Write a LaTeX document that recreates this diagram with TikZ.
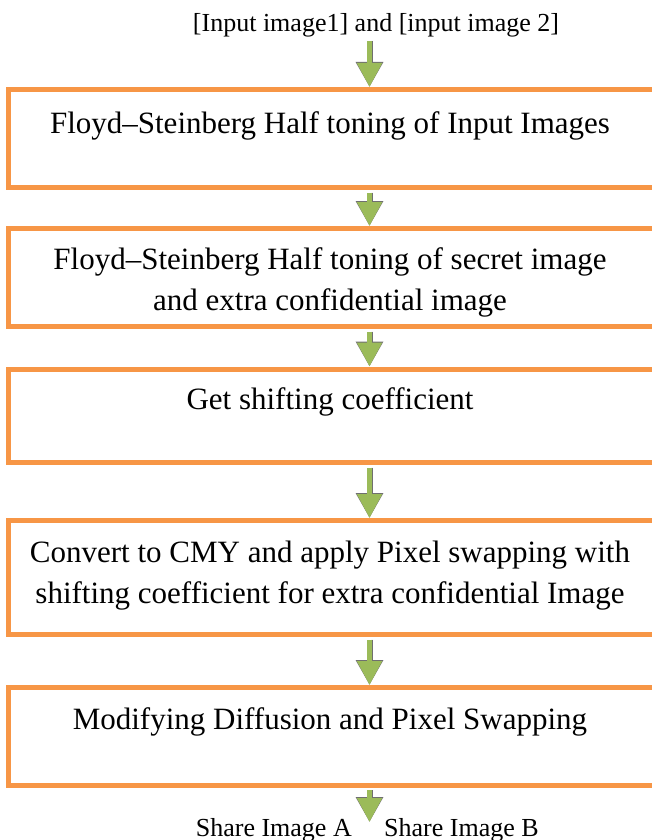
\documentclass[tikz,border=0pt]{standalone}
\usepackage{fontspec}
\setmainfont{Liberation Serif}
\usetikzlibrary{arrows.meta}
\definecolor{boxorange}{HTML}{F79646}
\definecolor{arrowgreen}{HTML}{9BBB59}
\definecolor{arrowedge}{HTML}{6F6F6F}
\begin{document}
\begin{tikzpicture}[x=1pt,y=-1pt,
  stepbox/.style={draw=boxorange, line width=5pt, fill=white,
    minimum width=646.5pt, inner sep=0pt},
  steptext/.style={anchor=base, inner sep=0pt, font=\fontsize{31}{31}\selectfont},
  endtext/.style={inner sep=0pt, font=\fontsize{26}{26}\selectfont},
  flowshadow/.style={draw=arrowedge, line width=6pt,
    -{Triangle[length=25pt,width=26pt]}, shift={(0.6,0.8)}},
  flow/.style={draw=arrowgreen, line width=5pt,
    -{Triangle[length=24pt,width=24pt]}}]
  \useasboundingbox (0,0) rectangle (651,840);
  \fill[white] (0,0) rectangle (651,840);

  % arrow column
  \coordinate (col) at (369.5,0);

  % input caption
  \node[endtext, anchor=base] (inp) at (376,32) {[Input image1] and [input image 2]};

  % process boxes (right edge runs just past the page)
  \node[stepbox, minimum height=97.5pt] (b1) at (331.25,138.25) {};
  \node[stepbox, minimum height=97.5pt] (b2) at (331.25,277.25) {};
  \node[stepbox, minimum height=93pt]   (b3) at (331.25,415.5) {};
  \node[stepbox, minimum height=113.5pt] (b4) at (331.25,577.25) {};
  \node[stepbox, minimum height=97.5pt] (b5) at (331.25,736.25) {};

  \node[steptext] (t1) at (330,134) {Floyd–Steinberg Half toning of Input Images};
  \node[steptext] (t2a) at (330,269) {Floyd–Steinberg Half toning of secret image};
  \node[steptext] (t2b) at (330,310) {and extra confidential image};
  \node[steptext] (t3) at (330,409) {Get shifting coefficient};
  \node[steptext] (t4a) at (330,562) {Convert to CMY and apply Pixel swapping with};
  \node[steptext] (t4b) at (330,603) {shifting coefficient for extra confidential Image};
  \node[steptext] (t5) at (330,729) {Modifying Diffusion and Pixel Swapping};

  % output captions
  \node[endtext, anchor=base east] (sa) at (352,836) {Share Image A};
  \node[endtext, anchor=base west] (sb) at (384,836) {Share Image B};
  \coordinate (outtip) at (369.5,822);

  % connectors
  \foreach \a/\b in {inp/b1, b1/b2, b2/b3, b3/b4, b4/b5} {
    \path[flowshadow] ([yshift=-3pt]\a.south -| col) -- (\b.north -| col);
    \path[flow] ([yshift=-3pt]\a.south -| col) -- (\b.north -| col);
  }
  \path[flowshadow] ([yshift=-2.5pt]b5.south -| col) -- (outtip);
  \path[flow] ([yshift=-2.5pt]b5.south -| col) -- (outtip);
\end{tikzpicture}
\end{document}
